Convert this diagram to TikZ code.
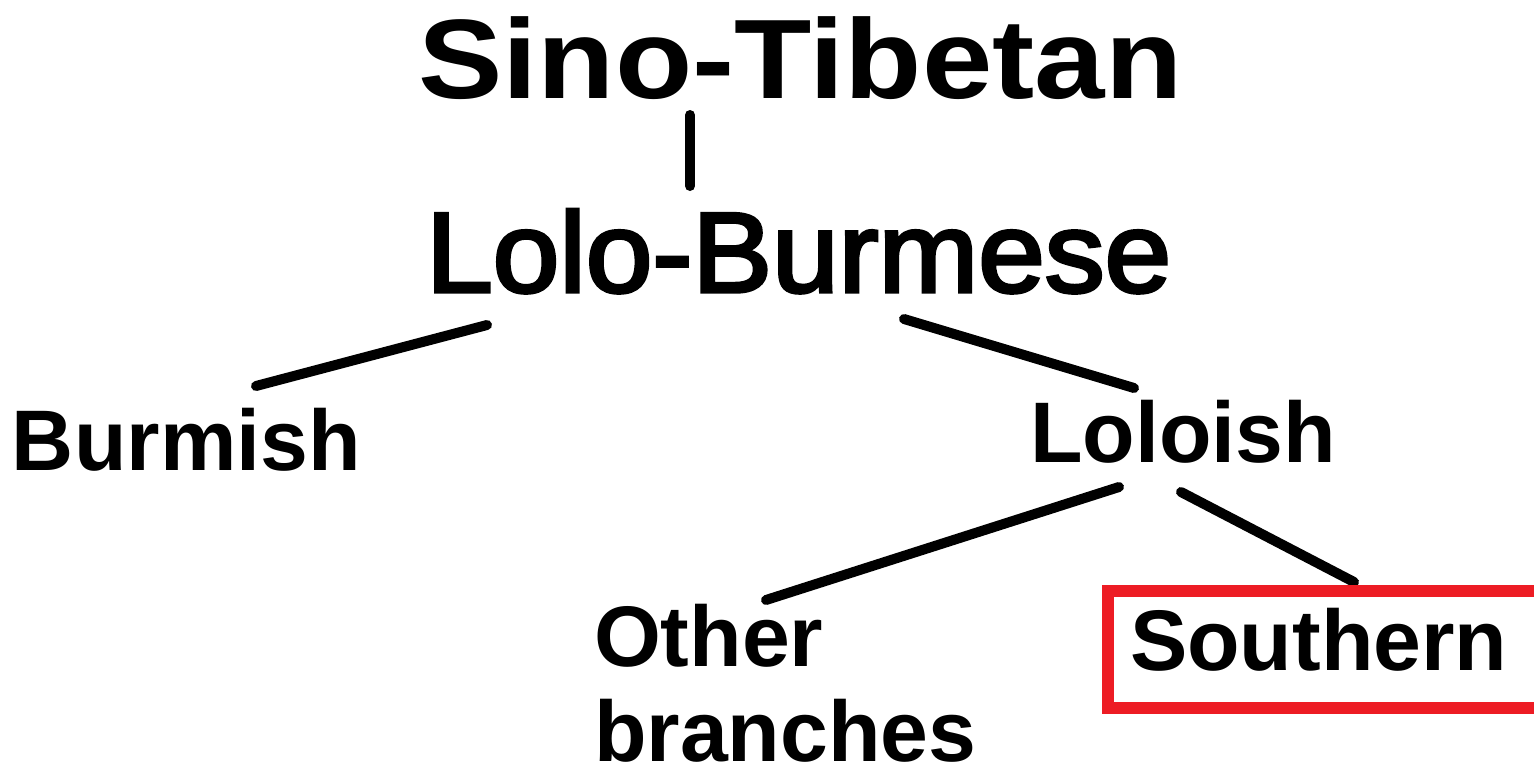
\documentclass[tikz,border=0pt]{standalone}
\usepackage{fontspec}
\setmainfont{Liberation Sans}
\newfontfamily\heavyfont[FakeBold=3]{Liberation Sans}
\definecolor{paintred}{HTML}{ED1C24}
\begin{document}
\begin{tikzpicture}[x=1pt,y=-1pt,
  lbl/.style={inner sep=0pt,outer sep=0pt,anchor=base west,font=\bfseries\fontsize{86}{95}\selectfont},
  link/.style={line width=10pt,line cap=round,black},
  frame/.style={line width=12pt,paintred}]
\useasboundingbox (0,0) rectangle (1534,777);
\clip (0,0) rectangle (1534,777);
\node[inner sep=0pt,anchor=base west,font=\bfseries\fontsize{113}{113}\selectfont] (st) at (418,98) {\scalebox{1.12}[1]{Sino-Tibetan}};
\node[inner sep=0pt,anchor=base west,font=\heavyfont\fontsize{114}{114}\selectfont] (lb) at (426,292) {\scalebox{1.05}[1]{Lolo-Burmese}};
\node[lbl] (bu) at (12,470) {Burmish};
\node[lbl] (lo) at (1030,462) {Loloish};
\node[lbl,align=left,anchor=north west] (ob) at (594,604) {Other\\branches};
\node[lbl] (so) at (1130,670) {Southern};
% connector ends
\coordinate (st1) at (690,115);
\coordinate (lb0) at (690,186);
\coordinate (lb1) at (487,325);
\coordinate (bu0) at (256,386);
\coordinate (lb2) at (904,319);
\coordinate (lo0) at (1134,388);
\coordinate (lo1) at (1119,487);
\coordinate (ob0) at (766,600);
\coordinate (lo2) at (1181,492);
\coordinate (so0) at (1354,582);
\draw[link] (st1) -- (lb0);
\draw[link] (lb1) -- (bu0);
\draw[link] (lb2) -- (lo0);
\draw[link] (lo1) -- (ob0);
\draw[link] (lo2) -- (so0);
\coordinate (fr1) at (1545,591);
\coordinate (fr2) at (1545,708);
\draw[frame] (fr1) -| (1108,708) -- (fr2);
\end{tikzpicture}
\end{document}
